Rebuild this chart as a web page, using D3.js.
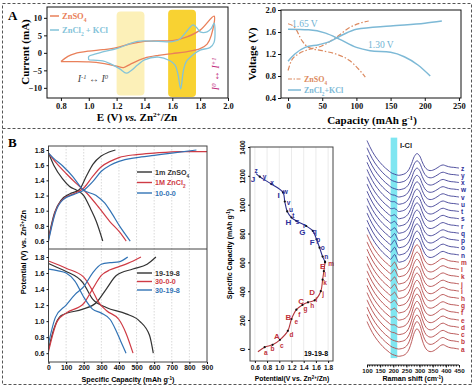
<!DOCTYPE html>
<html>
<head>
<meta charset="utf-8">
<script src="https://cdn.jsdelivr.net/npm/d3@7"></script>
<style>
  body { margin: 0; background: #fff; }
</style>
</head>
<body>
<div id="chart"></div>
<script>
// ---- Panel A (left): cyclic voltammetry, [E (V), I (mA)]
const cvZnSO4 = [
  [0.8, -2.5], [0.85, -1.0], [0.9, -0.2], [1.0, 0.5], [1.1, 0.9], [1.2, 1.5], [1.3, 2.6],
  [1.4, 3.3], [1.5, 3.4], [1.6, 3.5], [1.7, 4.5], [1.8, 6.5], [1.9, 10.5],
  [1.88, 5], [1.85, 2.5], [1.8, 1.2], [1.7, 0.3], [1.6, -0.2], [1.5, -0.7], [1.4, -1.5],
  [1.3, -3.2], [1.25, -4.2], [1.2, -3.8], [1.1, -3.0], [1.0, -2.6], [0.9, -2.5], [0.8, -2.5]
];
const cvZnCl2KCl = [
  [1.0, -2.0], [1.0, -1.0], [1.05, -0.3], [1.1, 0.3], [1.2, 1.2], [1.3, 2.7], [1.35, 3.3],
  [1.4, 3.4], [1.5, 3.3], [1.6, 3.2], [1.65, 3.8], [1.7, 6], [1.75, 8], [1.78, 7], [1.8, 6],
  [1.85, 6], [1.88, 7], [1.9, 8.5], [1.9, 3], [1.87, 1.5], [1.8, 0.8], [1.75, -0.5],
  [1.7, -2.5], [1.68, -5], [1.66, -10.3], [1.64, -6], [1.62, -3.5], [1.58, -2.2], [1.5, -1.2],
  [1.4, -2], [1.35, -3.5], [1.3, -5.2], [1.27, -5.8], [1.22, -4.5], [1.15, -3], [1.1, -2.3], [1.0, -2.0]
];
const cvBandLight = [1.2, 1.4];
const cvBandGold = [1.57, 1.77];

// ---- Panel A (right): voltage profiles, [capacity, V]
const gcdSO4Charge = [[0, 0.9], [5, 1.08], [15, 1.2], [30, 1.28], [50, 1.35], [70, 1.5], [90, 1.68], [105, 1.76], [118, 1.8]];
const gcdSO4Discharge = [[0, 1.75], [10, 1.68], [20, 1.45], [30, 1.32], [50, 1.26], [70, 1.2], [90, 1.08], [105, 0.9], [113, 0.78]];
const gcdClCharge = [[0, 1.07], [10, 1.2], [25, 1.32], [45, 1.37], [60, 1.42], [80, 1.55], [100, 1.65], [150, 1.71], [200, 1.76], [225, 1.8]];
const gcdClDischarge = [[0, 1.65], [30, 1.64], [55, 1.58], [75, 1.47], [100, 1.32], [120, 1.26], [150, 1.23], [170, 1.15], [190, 1.0], [208, 0.8]];

// ---- Panel B (left): charge/discharge, [capacity, V]
const topZnSO4Charge = [[0, 0.64], [34, 0.97], [72, 1.14], [119, 1.22], [176, 1.28], [214, 1.45], [252, 1.61], [299, 1.72], [340, 1.77], [380, 1.8]];
const topZnSO4Discharge = [[0, 1.76], [30, 1.6], [80, 1.42], [120, 1.32], [160, 1.27], [200, 1.2], [240, 1.02], [271, 0.86], [308, 0.6]];
const topZnCl2Charge = [[0, 0.62], [40, 1.0], [80, 1.15], [150, 1.23], [200, 1.3], [250, 1.45], [300, 1.58], [350, 1.65], [400, 1.7], [500, 1.74], [600, 1.76], [750, 1.78], [900, 1.78]];
const topZnCl2Discharge = [[0, 1.76], [44, 1.63], [100, 1.49], [157, 1.36], [214, 1.24], [290, 1.03], [347, 0.86], [403, 0.72], [441, 0.6]];
const top1000Charge = [[0, 0.6], [40, 0.98], [80, 1.14], [150, 1.22], [200, 1.27], [250, 1.38], [300, 1.52], [350, 1.6], [400, 1.65], [500, 1.7], [600, 1.73], [700, 1.76], [840, 1.8]];
const top1000Discharge = [[0, 1.76], [25, 1.7], [81, 1.59], [138, 1.45], [195, 1.28], [271, 1.2], [320, 1.1], [350, 1.0], [403, 0.8], [464, 0.6]];

const bot19198Charge = [[0, 0.65], [30, 0.9], [72, 1.07], [195, 1.15], [271, 1.23], [328, 1.4], [385, 1.57], [479, 1.65], [560, 1.71], [610, 1.8]];
const bot19198Discharge = [[0, 1.72], [50, 1.67], [100, 1.62], [195, 1.48], [252, 1.27], [328, 1.17], [441, 1.09], [517, 1.0], [574, 0.82], [595, 0.6]];
const bot3000Charge = [[0, 0.62], [50, 1.0], [100, 1.1], [200, 1.22], [250, 1.4], [300, 1.57], [350, 1.64], [400, 1.68], [450, 1.72], [525, 1.8]];
const bot3000Discharge = [[0, 1.75], [100, 1.66], [200, 1.55], [250, 1.38], [280, 1.25], [330, 1.13], [400, 1.02], [440, 0.85], [480, 0.6]];
const bot30198Charge = [[0, 0.72], [40, 1.05], [100, 1.2], [150, 1.33], [200, 1.43], [250, 1.6], [300, 1.71], [350, 1.73], [400, 1.74], [450, 1.8]];
const bot30198Discharge = [[0, 1.65], [50, 1.63], [100, 1.6], [150, 1.5], [200, 1.3], [250, 1.15], [300, 1.1], [350, 1.02], [380, 0.9], [410, 0.75], [440, 0.6]];

// ---- Panel B (middle): [potential, specific capacity]
const midRedPath = [[0.65, -20], [0.76, 12], [0.89, 28], [1.01, 63], [1.14, 125], [1.2, 207], [1.28, 272], [1.38, 305], [1.47, 323], [1.58, 337], [1.68, 400], [1.71, 480], [1.73, 539], [1.75, 600]];
const midBluePath = [[0.62, 1215], [0.68, 1194], [0.87, 1143], [1.06, 1085], [1.09, 1022], [1.13, 953], [1.2, 911], [1.28, 887], [1.44, 852], [1.55, 818], [1.61, 760], [1.66, 702], [1.71, 640], [1.75, 605]];
const midRedLetters = [["a", 0.78, -28], ["b", 0.89, 0], ["c", 1.04, 21], ["d", 1.2, 98], ["e", 1.28, 188], ["f", 1.33, 237], ["g", 1.43, 279], ["h", 1.54, 300], ["i", 1.61, 342], ["j", 1.72, 383], ["k", 1.75, 460], ["l", 1.75, 516], ["m", 1.85, 592]];
const midRedCaps = [["A", 0.96, 91], ["B", 1.15, 223], ["C", 1.36, 328], ["D", 1.54, 390], ["E", 1.71, 572]];
const midBlueLetters = [["n", 1.77, 641], ["o", 1.71, 704], ["p", 1.64, 760], ["q", 1.58, 815], ["r", 1.41, 857], ["s", 1.3, 885], ["t", 1.23, 920], ["u", 1.19, 962], ["v", 1.15, 1011], ["w", 1.1, 1087], ["x", 0.88, 1150], ["y", 0.76, 1192], ["z", 0.62, 1234]];
const midBlueCaps = [["F", 1.54, 739], ["G", 1.38, 808], ["H", 1.15, 878], ["I", 0.99, 1066], ["J", 0.57, 1178]];

// ---- Panel B (right): Raman spectra, stacked a..z
const ramanNames = "abcdefghijklmnopqrstuvwxyz".split("");
const ramanShift = [100, 110, 120, 130, 140, 150, 160, 170, 180, 190, 197, 205, 213, 220, 230, 240, 250, 260, 270, 280, 290, 300, 310, 320, 330, 340, 350, 360, 370, 380, 390, 400, 410, 420, 430, 440, 450];
const ramanBase = [3.8, 3.0, 2.3, 1.7, 1.2, 0.75, 0.35, 0, -0.3, -0.6, -0.75, -0.85, -0.95, -1.0, -0.95, -0.85, -0.75, -0.65, -0.55, -0.45, -0.4, -0.35, -0.35, -0.35, -0.35, -0.35, -0.3, -0.25, -0.2, -0.15, -0.1, -0.05, 0, 0, 0, 0, 0];
const ramanMainShape = [0, 0, 0, 0, 0, 0, 0, 0, 0, 0, 0, 0, 0, 0, 0, 0, 0.05, 0.2, 0.5, 0.85, 1.0, 0.85, 0.5, 0.2, 0.05, 0, 0, 0.05, 0.12, 0.2, 0.22, 0.15, 0.08, 0.05, 0.04, 0.02, 0];
const ramanIClShape = [0, 0, 0, 0, 0, 0, 0, 0, 0, 0, 0.5, 1, 0.5, 0, 0, 0, 0, 0, 0, 0, 0, 0, 0, 0, 0, 0, 0, 0, 0, 0, 0, 0, 0, 0, 0, 0, 0];
const ramanMainAmp = [3.2, 3.2, 3.1, 3.1, 3.0, 3.0, 2.9, 2.9, 2.9, 2.8, 2.8, 2.8, 2.8, 2.7, 2.7, 2.7, 2.6, 2.6, 2.6, 2.5, 2.5, 2.5, 2.4, 2.4, 2.4, 2.4];
const ramanIClAmp = [0, 0, 0, 0.1, 0.2, 0.35, 0.5, 0.6, 0.7, 0.8, 0.8, 0.85, 0.85, 0.9, 0.9, 0.9, 0.8, 0.6, 0.5, 0.4, 0.3, 0.2, 0.1, 0, 0, 0];
const ramanBand = [190, 215];

const width = 474;
const height = 387;
const serif = "'Liberation Serif','Times New Roman',serif";
const sans = "'Liberation Sans',Arial,sans-serif";

const svg = d3
  .select("#chart")
  .append("svg")
  .attr("viewBox", [0, 0, width, height])
  .attr("width", width)
  .attr("height", height);

svg.append("rect").attr("width", width).attr("height", height).attr("fill", "#fff");

// text with sub/superscripts: parts = [[text, "sup"|"sub"|"i"|null], ...]
function rich(sel, parts, size) {
  parts.forEach(([t, k]) => {
    const ts = sel.append("tspan").text(t);
    if (k === "sup") ts.attr("baseline-shift", "super").attr("font-size", size * 0.65);
    if (k === "sub") ts.attr("baseline-shift", "sub").attr("font-size", size * 0.65);
    if (k === "i") ts.attr("font-style", "italic");
  });
  return sel;
}

function styleAxis(g, font, size) {
  g.select(".domain").remove();
  g.selectAll("text")
    .attr("font-family", font)
    .attr("font-size", size)
    .attr("font-weight", "bold")
    .attr("fill", "#111");
  g.selectAll("line").attr("stroke", "#111");
}

// dashed frames
svg.append("rect")
  .attr("x", 2.5).attr("y", 3.5).attr("width", 469).attr("height", 381)
  .attr("fill", "none").attr("stroke", "#555").attr("stroke-dasharray", "3,2");
svg.append("line")
  .attr("x1", 2.5).attr("x2", 471.5).attr("y1", 128.5).attr("y2", 128.5)
  .attr("stroke", "#555").attr("stroke-dasharray", "3,2");

svg.append("text").attr("x", 8).attr("y", 20).attr("font-family", serif)
  .attr("font-size", 13).attr("font-weight", "bold").text("A");
svg.append("text").attr("x", 8).attr("y", 147).attr("font-family", serif)
  .attr("font-size", 13).attr("font-weight", "bold").text("B");

// =================== A left: CV ===================
const cvX = d3.scaleLinear().domain([0.7, 2.0]).range([47, 228]);
const cvY = d3.scaleLinear().domain([-12.9, 13.1]).range([98, 7]);

svg.append("rect")
  .attr("x", cvX(cvBandLight[0])).attr("width", cvX(cvBandLight[1]) - cvX(cvBandLight[0]))
  .attr("y", cvY(11.8)).attr("height", cvY(-12.2) - cvY(11.8))
  .attr("rx", 4).attr("fill", "#fcf0b8");
svg.append("rect")
  .attr("x", cvX(cvBandGold[0])).attr("width", cvX(cvBandGold[1]) - cvX(cvBandGold[0]))
  .attr("y", cvY(12.3)).attr("height", cvY(-12.6) - cvY(12.3))
  .attr("rx", 4).attr("fill", "#f8d232");

const cvLine = d3.line().x((d) => cvX(d[0])).y((d) => cvY(d[1])).curve(d3.curveCatmullRom.alpha(0.5));
svg.append("path").datum(cvZnSO4).attr("d", cvLine)
  .attr("fill", "none").attr("stroke", "#e9805a").attr("stroke-width", 1.3);
svg.append("path").datum(cvZnCl2KCl).attr("d", cvLine)
  .attr("fill", "none").attr("stroke", "#83c3d9").attr("stroke-width", 1.3);

svg.append("rect").attr("x", 47).attr("y", 7).attr("width", 181).attr("height", 91)
  .attr("fill", "none").attr("stroke", "#111").attr("stroke-width", 1);

svg.append("g").attr("transform", "translate(0,98)")
  .call(d3.axisBottom(cvX).tickValues([0.8, 1.0, 1.2, 1.4, 1.6, 1.8, 2.0]).tickFormat(d3.format(".1f")).tickSize(3).tickPadding(2))
  .call((g) => styleAxis(g, serif, 8.5));
svg.append("g").attr("transform", "translate(47,0)")
  .call(d3.axisLeft(cvY).tickValues([-10, -5, 0, 5, 10]).tickSize(3).tickPadding(2))
  .call((g) => styleAxis(g, serif, 8.5));

// legend
[["ZnSO", "4", "#e9805a", 16], ["ZnCl", "2", "#83c3d9", 30]].forEach(([a, s, c, yy]) => {
  svg.append("line").attr("x1", 50).attr("x2", 59).attr("y1", yy).attr("y2", yy)
    .attr("stroke", c).attr("stroke-width", 1.5);
  const t = svg.append("text").attr("x", 62).attr("y", yy + 3).attr("font-family", serif)
    .attr("font-size", 8.5).attr("font-weight", "bold").attr("fill", c);
  rich(t, s === "4" ? [[a], [s, "sub"]] : [[a], [s, "sub"], [" + KCl"]], 8.5);
});

rich(svg.append("text").attr("x", cvX(0.92)).attr("y", cvY(-8.3))
  .attr("font-family", serif).attr("font-size", 10).attr("font-style", "italic").attr("fill", "#444"),
  [["I"], ["-1", "sup"], [" \u2194 I"], ["0", "sup"]], 10);
rich(svg.append("text")
  .attr("transform", `translate(${cvX(1.935)},${cvY(-6)}) rotate(-90)`)
  .attr("text-anchor", "middle")
  .attr("font-family", serif).attr("font-size", 10).attr("font-style", "italic").attr("fill", "#c2307f"),
  [["I"], ["0", "sup"], [" \u2194 I"], ["+1", "sup"]], 10);

rich(svg.append("text").attr("transform", "translate(29,52) rotate(-90)").attr("text-anchor", "middle")
  .attr("font-family", serif).attr("font-size", 11).attr("font-weight", "bold"),
  [["Current (mA)"]], 11);
rich(svg.append("text").attr("x", 137).attr("y", 121).attr("text-anchor", "middle")
  .attr("font-family", serif).attr("font-size", 11).attr("font-weight", "bold"),
  [["E (V) "], ["vs.", "i"], [" Zn"], ["2+", "sup"], ["/Zn"]], 11);

// =================== A right: voltage profiles ===================
const vX = d3.scaleLinear().domain([-10.3, 253]).range([281, 461]);
const vY = d3.scaleLinear().domain([0.4, 2.0]).range([98, 10]);
const vLine = d3.line().x((d) => vX(d[0])).y((d) => vY(d[1])).curve(d3.curveMonotoneX);

[gcdSO4Charge, gcdSO4Discharge].forEach((s) => {
  svg.append("path").datum(s).attr("d", vLine).attr("fill", "none")
    .attr("stroke", "#dc8a60").attr("stroke-width", 1.2).attr("stroke-dasharray", "5,2,1.5,2");
});
[gcdClCharge, gcdClDischarge].forEach((s) => {
  svg.append("path").datum(s).attr("d", vLine).attr("fill", "none")
    .attr("stroke", "#7db9d6").attr("stroke-width", 1.5);
});

svg.append("rect").attr("x", 281).attr("y", 10).attr("width", 180).attr("height", 88)
  .attr("fill", "none").attr("stroke", "#111");
svg.append("g").attr("transform", "translate(0,98)")
  .call(d3.axisBottom(vX).tickValues([0, 50, 100, 150, 200, 250]).tickSize(3).tickPadding(2))
  .call((g) => styleAxis(g, serif, 8.5));
svg.append("g").attr("transform", "translate(281,0)")
  .call(d3.axisLeft(vY).tickValues([0.4, 0.8, 1.2, 1.6, 2.0]).tickFormat(d3.format(".1f")).tickSize(3).tickPadding(2))
  .call((g) => styleAxis(g, serif, 8.5));

svg.append("text").attr("x", 292).attr("y", 27).attr("font-family", serif).attr("font-size", 9.5)
  .attr("fill", "#6fb2d2").text("1.65 V");
svg.append("text").attr("x", 368).attr("y", 48).attr("font-family", serif).attr("font-size", 9.5)
  .attr("fill", "#6fb2d2").text("1.30 V");

svg.append("line").attr("x1", 288).attr("x2", 301).attr("y1", 79).attr("y2", 79)
  .attr("stroke", "#dc8a60").attr("stroke-width", 1.2).attr("stroke-dasharray", "4,1.5,1.5,1.5");
rich(svg.append("text").attr("x", 304).attr("y", 81.5).attr("font-family", serif).attr("font-size", 8)
  .attr("font-weight", "bold").attr("fill", "#dc8a60"), [["ZnSO"], ["4", "sub"]], 8);
svg.append("line").attr("x1", 288).attr("x2", 301).attr("y1", 90).attr("y2", 90)
  .attr("stroke", "#7db9d6").attr("stroke-width", 1.5);
rich(svg.append("text").attr("x", 304).attr("y", 93).attr("font-family", serif).attr("font-size", 8)
  .attr("font-weight", "bold").attr("fill", "#7db9d6"), [["ZnCl"], ["2", "sub"], ["+KCl"]], 8);

svg.append("text").attr("transform", "translate(256,54) rotate(-90)").attr("text-anchor", "middle")
  .attr("font-family", serif).attr("font-size", 11).attr("font-weight", "bold").text("Voltage (V)");
rich(svg.append("text").attr("x", 372).attr("y", 124).attr("text-anchor", "middle")
  .attr("font-family", serif).attr("font-size", 11).attr("font-weight", "bold"),
  [["Capacity (mAh g"], ["-1", "sup"], [")"]], 11);

// =================== B left: stacked charge/discharge ===================
const bX = d3.scaleLinear().domain([0, 900]).range([48.5, 207]);
const bTopY = d3.scaleLinear().domain([0.495, 1.853]).range([249, 146]);
const bBotY = d3.scaleLinear().domain([0.49, 1.9]).range([362, 249]);

// dotted grid
svg.append("g").selectAll("line").data(d3.range(100, 900, 100)).join("line")
  .attr("x1", (d) => bX(d)).attr("x2", (d) => bX(d)).attr("y1", 146).attr("y2", 362)
  .attr("stroke", "#c8c8c8").attr("stroke-width", 0.7).attr("stroke-dasharray", "1.5,1.5");

const blue = "#3273b5", red = "#cf3b45", dark = "#333";
const topSeries = [
  [topZnSO4Charge, dark], [topZnSO4Discharge, dark],
  [topZnCl2Charge, red], [topZnCl2Discharge, red],
  [top1000Charge, blue], [top1000Discharge, blue]
];
const botSeries = [
  [bot19198Charge, dark], [bot19198Discharge, dark],
  [bot3000Charge, red], [bot3000Discharge, red],
  [bot30198Charge, blue], [bot30198Discharge, blue]
];
const topLine = d3.line().x((d) => bX(d[0])).y((d) => bTopY(d[1])).curve(d3.curveMonotoneX);
const botLine = d3.line().x((d) => bX(d[0])).y((d) => bBotY(d[1])).curve(d3.curveMonotoneX);
topSeries.forEach(([s, c]) => svg.append("path").datum(s).attr("d", topLine)
  .attr("fill", "none").attr("stroke", c).attr("stroke-width", 1.2));
botSeries.forEach(([s, c]) => svg.append("path").datum(s).attr("d", botLine)
  .attr("fill", "none").attr("stroke", c).attr("stroke-width", 1.2));

svg.append("rect").attr("x", 48.5).attr("y", 146).attr("width", 158.5).attr("height", 216)
  .attr("fill", "none").attr("stroke", "#444");
svg.append("line").attr("x1", 48.5).attr("x2", 207).attr("y1", 249).attr("y2", 249).attr("stroke", "#444");

const vTicks = [0.6, 0.8, 1.0, 1.2, 1.4, 1.6, 1.8];
svg.append("g").attr("transform", "translate(48.5,0)")
  .call(d3.axisLeft(bTopY).tickValues(vTicks).tickFormat(d3.format(".1f")).tickSize(2).tickPadding(2))
  .call((g) => styleAxis(g, sans, 7));
svg.append("g").attr("transform", "translate(48.5,0)")
  .call(d3.axisLeft(bBotY).tickValues(vTicks).tickFormat(d3.format(".1f")).tickSize(2).tickPadding(2))
  .call((g) => styleAxis(g, sans, 7));
svg.append("g").attr("transform", "translate(0,362)")
  .call(d3.axisBottom(bX).tickValues(d3.range(0, 901, 100)).tickSize(2).tickPadding(1.5))
  .call((g) => styleAxis(g, sans, 6.8));

const topLegend = [[["1m ZnSO"], ["4", "sub"]], [["1M ZnCl"], ["2", "sub"]], [["10-0-0"]]];
const botLegend = [[["19-19-8"]], [["30-0-0"]], [["30-19-8"]]];
const legendColors = [dark, red, blue];
[[topLegend, 172, 10.5], [botLegend, 273, 8.5]].forEach(([items, y0, step]) => {
  items.forEach((parts, i) => {
    const yy = y0 + i * step;
    svg.append("line").attr("x1", 137).attr("x2", 152).attr("y1", yy).attr("y2", yy)
      .attr("stroke", legendColors[i]).attr("stroke-width", 1.4);
    rich(svg.append("text").attr("x", 155).attr("y", yy + 2.6).attr("font-family", sans)
      .attr("font-size", 7.2).attr("font-weight", "bold").attr("fill", legendColors[i]), parts, 7.2);
  });
});

rich(svg.append("text").attr("transform", "translate(26,252) rotate(-90)").attr("text-anchor", "middle")
  .attr("font-family", sans).attr("font-size", 7.5).attr("font-weight", "bold"),
  [["Potential (V) vs. Zn"], ["2+", "sup"], ["/Zn"]], 7.5);
rich(svg.append("text").attr("x", 128).attr("y", 381.5).attr("text-anchor", "middle")
  .attr("font-family", sans).attr("font-size", 7.2).attr("font-weight", "bold"),
  [["Specific Capacity (mAh g"], ["-1", "sup"], [")"]], 7.2);

// =================== B middle ===================
const mX = d3.scaleLinear().domain([0.52, 1.88]).range([250, 333]);
const mY = d3.scaleLinear().domain([-84, 1400]).range([361, 147]);
svg.append("g").selectAll("line").data(vTicks).join("line")
  .attr("x1", (d) => mX(d)).attr("x2", (d) => mX(d)).attr("y1", 147).attr("y2", 361)
  .attr("stroke", "#e2e2e2").attr("stroke-width", 0.7);

const mLine = d3.line().x((d) => mX(d[0])).y((d) => mY(d[1])).curve(d3.curveCatmullRom.alpha(0.5));
svg.append("path").datum(midRedPath).attr("d", mLine).attr("fill", "none")
  .attr("stroke", "#b3363c").attr("stroke-width", 1.1);
svg.append("path").datum(midBluePath).attr("d", mLine).attr("fill", "none")
  .attr("stroke", "#2c318f").attr("stroke-width", 1.1);
svg.append("g").selectAll("circle").data([...midRedPath.slice(1), ...midBluePath.slice(1)]).join("circle")
  .attr("cx", (d) => mX(d[0])).attr("cy", (d) => mY(d[1])).attr("r", 1.1).attr("fill", "#111");

[[midRedLetters, "#c0323c", 6.5], [midRedCaps, "#c0323c", 8], [midBlueLetters, "#2c2f9a", 6.5], [midBlueCaps, "#2c2f9a", 8]]
  .forEach(([arr, c, fs]) => {
    svg.append("g").selectAll("text").data(arr).join("text")
      .attr("x", (d) => mX(d[1])).attr("y", (d) => mY(d[2])).attr("dy", "0.35em")
      .attr("text-anchor", "middle").attr("font-family", sans).attr("font-size", fs)
      .attr("font-weight", "bold").attr("fill", c).text((d) => d[0]);
  });

svg.append("rect").attr("x", 250).attr("y", 147).attr("width", 83).attr("height", 214)
  .attr("fill", "none").attr("stroke", "#444");
svg.append("g").attr("transform", "translate(0,361)")
  .call(d3.axisBottom(mX).tickValues(vTicks).tickFormat(d3.format(".1f")).tickSize(2).tickPadding(2))
  .call((g) => styleAxis(g, sans, 6.5));
svg.append("g").attr("transform", "translate(250,0)")
  .call(d3.axisLeft(mY).tickValues(d3.range(0, 1401, 200)).tickFormat(d3.format("d")).tickSize(2))
  .call((g) => styleAxis(g, sans, 6.5))
  .call((g) => g.selectAll("text").attr("x", 0).attr("dy", 0).attr("text-anchor", "middle")
    .attr("transform", "translate(-5,0) rotate(-90)"));

svg.append("text").attr("x", 316).attr("y", 356).attr("text-anchor", "middle").attr("font-family", sans)
  .attr("font-size", 7).attr("font-weight", "bold").text("19-19-8");
rich(svg.append("text").attr("transform", "translate(232,254) rotate(-90)").attr("text-anchor", "middle")
  .attr("font-family", sans).attr("font-size", 7).attr("font-weight", "bold"),
  [["Specific Capacity (mAh g"], ["-1", "sup"], [")"]], 7);
rich(svg.append("text").attr("x", 292).attr("y", 380.5).attr("text-anchor", "middle")
  .attr("font-family", sans).attr("font-size", 6.8).attr("font-weight", "bold"),
  [["Potential(V vs. Zn"], ["2+", "sup"], ["/Zn)"]], 6.8);

// =================== B right: Raman ===================
const rX = d3.scaleLinear().domain([100, 450]).range([367, 459]);
const rY = d3.scaleLinear().domain([-2.2, 31]).range([365, 124.6]);

svg.append("rect").attr("x", rX(ramanBand[0])).attr("width", rX(ramanBand[1]) - rX(ramanBand[0]))
  .attr("y", rY(29.2)).attr("height", rY(-1.25) - rY(29.2)).attr("fill", "#7fe6f1");

const spectra = ramanNames.map((name, i) => ({
  name,
  i,
  pts: ramanShift.map((s, k) => [s, i + ramanBase[k] + ramanMainAmp[i] * ramanMainShape[k] + ramanIClAmp[i] * ramanIClShape[k]])
}));
const rLine = d3.line().x((d) => rX(d[0])).y((d) => rY(d[1])).curve(d3.curveCatmullRom.alpha(0.5));
const rColor = (i) => (i < 13 ? "#b44a4a" : "#3f3f95");
svg.append("g").selectAll("path").data(spectra).join("path")
  .attr("d", (d) => rLine(d.pts)).attr("fill", "none")
  .attr("stroke", (d) => rColor(d.i)).attr("stroke-width", 0.9);
svg.append("g").selectAll("text").data(spectra).join("text")
  .attr("x", rX(450) + 2).attr("y", (d) => rY(d.i)).attr("dy", "0.4em")
  .attr("font-family", sans).attr("font-size", 6.5).attr("font-weight", "bold")
  .attr("fill", (d) => (d.i < 13 ? "#c0323c" : "#2c2f9a")).text((d) => d.name);

svg.append("text").attr("x", 400).attr("y", 148).attr("font-family", sans).attr("font-size", 7.5)
  .attr("font-weight", "bold").attr("fill", "#222").text("I-Cl");

const rAxis = svg.append("g").attr("transform", "translate(0,365)");
rAxis.call(d3.axisBottom(rX).tickValues(d3.range(100, 451, 50)).tickSize(2.5).tickPadding(1.5))
  .call((g) => styleAxis(g, sans, 6.2));
rAxis.append("line").attr("x1", rX(100)).attr("x2", rX(450)).attr("stroke", "#111");
rAxis.selectAll(".minor").data(d3.range(110, 450, 10)).join("line").attr("class", "minor")
  .attr("x1", (d) => rX(d)).attr("x2", (d) => rX(d)).attr("y2", 1.5).attr("stroke", "#111");
rich(svg.append("text").attr("x", 413).attr("y", 381).attr("text-anchor", "middle")
  .attr("font-family", sans).attr("font-size", 7).attr("font-weight", "bold"),
  [["Raman shift (cm"], ["-1", "sup"], [")"]], 7);
</script>
</body>
</html>
